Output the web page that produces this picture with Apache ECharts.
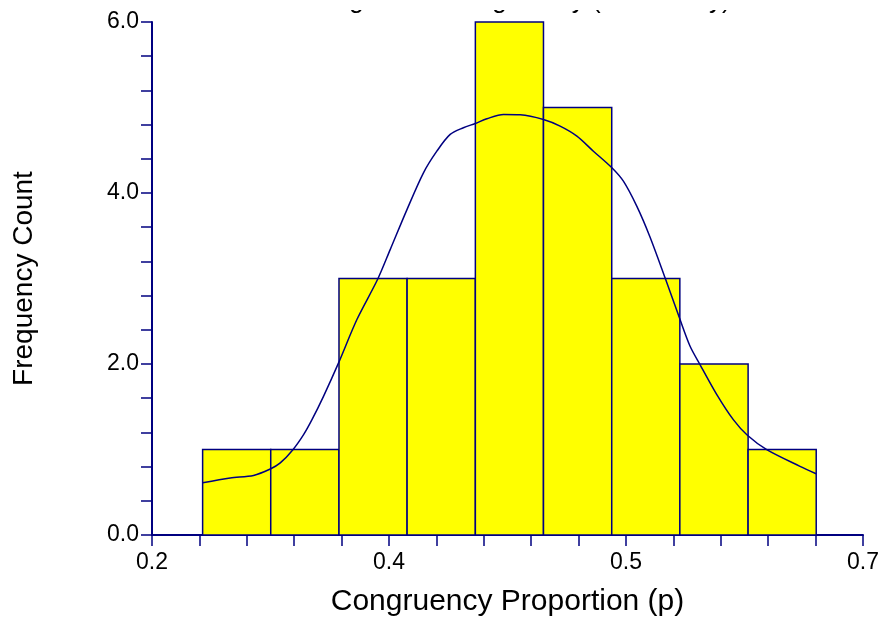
<!DOCTYPE html>
<html>
<head>
<meta charset="utf-8">
<script src="https://cdn.jsdelivr.net/npm/echarts@6/dist/echarts.min.js"></script>
<style>html,body{margin:0;padding:0;background:#fff;}#c{width:885px;height:621px;}</style>
</head>
<body>
<div id="c"></div>
<script>
var titleText = 'Histogram of Congruency (Test Study)';
var xTitle = 'Congruency Proportion (p)';
var yTitle = 'Frequency Count';
var binEdges = [0.2356, 0.2835, 0.3315, 0.3794, 0.4274, 0.4753, 0.5233, 0.5712, 0.6192, 0.6671];
var counts = [1, 1, 3, 3, 6, 5, 3, 2, 1];
var curveX = [0.2356, 0.2550, 0.2714, 0.2832, 0.2902, 0.2991, 0.3066, 0.3125, 0.3206, 0.3312, 0.3441, 0.3586, 0.3675, 0.3793, 0.3909, 0.4003, 0.4097, 0.4190, 0.4273, 0.4355, 0.4472, 0.4589, 0.4753, 0.4870, 0.4988, 0.5104, 0.5234, 0.5315, 0.5409, 0.5500, 0.5608, 0.5709, 0.5784, 0.5854, 0.5972, 0.6088, 0.6187, 0.6323, 0.6557, 0.6670];
var curveY = [0.61, 0.667, 0.697, 0.772, 0.843, 0.998, 1.174, 1.349, 1.622, 2.013, 2.520, 2.988, 3.338, 3.806, 4.236, 4.489, 4.685, 4.763, 4.813, 4.868, 4.919, 4.915, 4.860, 4.782, 4.665, 4.489, 4.295, 4.138, 3.846, 3.494, 3.008, 2.540, 2.207, 1.993, 1.642, 1.349, 1.166, 0.998, 0.803, 0.717];

var navy = '#000080';
var font = 'Liberation Sans, Arial, sans-serif';

var barData = counts.map(function (c, i) { return [binEdges[i], binEdges[i + 1], c]; });
var curveData = curveX.map(function (x, i) { return [x, curveY[i]]; });

var chart = echarts.init(document.getElementById('c'), null, {renderer: 'canvas'});
chart.setOption({
  animation: false,
  backgroundColor: '#fff',
  grid: {left: 152, right: 22, top: 22, bottom: 86, containLabel: false, outerBoundsMode: 'none'},
  graphic: [
    {type: 'text', z: 1, left: 290, top: -12,
      style: {text: titleText, font: '26px ' + font, fill: '#000'}},
    {type: 'rect', z: 2, shape: {x: 240, y: 0, width: 520, height: 10},
      style: {fill: '#fff'}}
  ],
  xAxis: {
    type: 'value', min: 0.2, max: 0.7, interval: 0.5 / 3,
    name: xTitle, nameLocation: 'middle', nameGap: 52,
    nameTextStyle: {fontFamily: font, fontSize: 30, color: '#000'},
    axisLine: {show: true, onZero: false, lineStyle: {color: navy, width: 2}},
    axisTick: {show: true, inside: false, length: 11, lineStyle: {color: navy, width: 1.5}},
    minorTick: {show: true, splitNumber: 5, length: 11, lineStyle: {color: navy, width: 1.5}},
    splitLine: {show: false},
    axisLabel: {fontFamily: font, fontSize: 23, color: '#000', margin: 16,
      formatter: function (v) { return v.toFixed(1); }}
  },
  yAxis: {
    type: 'value', min: 0, max: 6, interval: 2,
    name: yTitle, nameLocation: 'middle', nameGap: 114, nameRotate: 90,
    nameTextStyle: {fontFamily: font, fontSize: 28, color: '#000'},
    axisLine: {show: true, lineStyle: {color: navy, width: 2}},
    axisTick: {show: true, inside: false, length: 11, lineStyle: {color: navy, width: 1.5}},
    minorTick: {show: true, splitNumber: 5, length: 11, lineStyle: {color: navy, width: 1.5}},
    splitLine: {show: false},
    axisLabel: {fontFamily: font, fontSize: 23, color: '#000', margin: 13,
      formatter: function (v) { return v.toFixed(1); }}
  },
  series: [
    {
      type: 'custom',
      data: barData,
      encode: {x: [0, 1], y: 2},
      renderItem: function (params, api) {
        var p1 = api.coord([api.value(0), api.value(2)]);
        var p2 = api.coord([api.value(1), 0]);
        return {
          type: 'rect',
          shape: {x: p1[0], y: p1[1], width: p2[0] - p1[0], height: p2[1] - p1[1]},
          style: {fill: '#FFFF00', stroke: navy, lineWidth: 1.5}
        };
      },
      z: 2
    },
    {
      type: 'line',
      data: curveData,
      smooth: 0.3,
      showSymbol: false,
      lineStyle: {color: navy, width: 1.5},
      z: 3
    }
  ]
});
</script>
</body>
</html>
